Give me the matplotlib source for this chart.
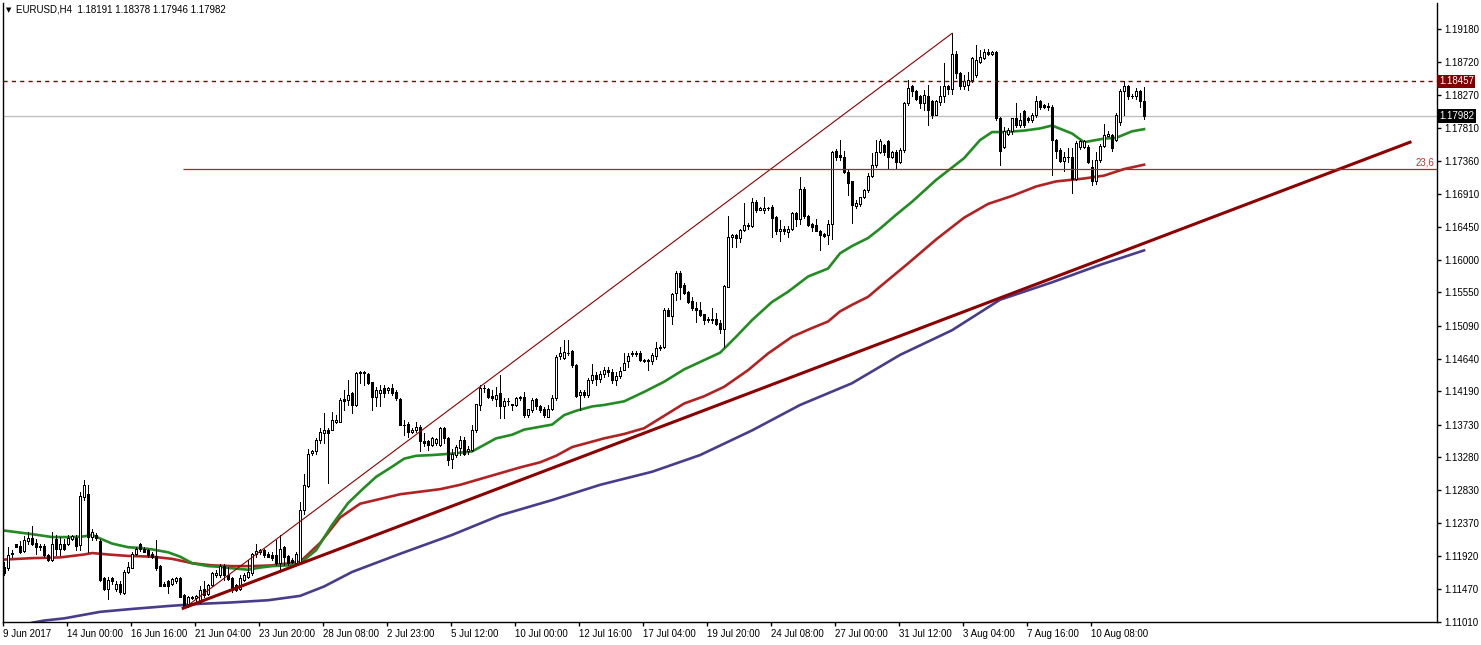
import numpy as np
import matplotlib
matplotlib.use("Agg")
from matplotlib import pyplot as plt
from matplotlib.transforms import blended_transform_factory

# EURUSD H4 candles (one per bar, oldest first)
opens = [
    1.1177, 1.1175, 1.1195, 1.1208, 1.1206, 1.1199, 1.1212, 1.1217, 1.1210, 1.1205,
    1.1206, 1.1193, 1.1187, 1.1216, 1.1202, 1.1209, 1.1209, 1.1216, 1.1217, 1.1207,
    1.1273, 1.1278, 1.1218, 1.1221, 1.1212, 1.1161, 1.1147, 1.1161, 1.1147, 1.1153,
    1.1141, 1.1170, 1.1176, 1.1195, 1.1208, 1.1201, 1.1200, 1.1195, 1.1192, 1.1178,
    1.1153, 1.1157, 1.1154, 1.1157, 1.1161, 1.1138, 1.1126, 1.1134, 1.1134, 1.1129,
    1.1147, 1.1140, 1.1152, 1.1166, 1.1166, 1.1178, 1.1166, 1.1161, 1.1152, 1.1147,
    1.1159, 1.1163, 1.1168, 1.1195, 1.1198, 1.1200, 1.1195, 1.1193, 1.1193, 1.1182,
    1.1204, 1.1192, 1.1186, 1.1182, 1.1184, 1.1255, 1.1288, 1.1334, 1.1336, 1.1352,
    1.1361, 1.1366, 1.1366, 1.1377, 1.1377, 1.1408, 1.1407, 1.1416, 1.1400, 1.1444,
    1.1445, 1.1443, 1.1431, 1.1411, 1.1416, 1.1424, 1.1421, 1.1424, 1.1418, 1.1408,
    1.1373, 1.1374, 1.1363, 1.1366, 1.1370, 1.1350, 1.1350, 1.1345, 1.1347, 1.1345,
    1.1368, 1.1354, 1.1325, 1.1331, 1.1341, 1.1352, 1.1336, 1.1338, 1.1366, 1.1400,
    1.1424, 1.1422, 1.1412, 1.1408, 1.1416, 1.1398, 1.1406, 1.1401, 1.1400, 1.1409,
    1.1411, 1.1386, 1.1393, 1.1408, 1.1398, 1.1395, 1.1384, 1.1395, 1.1409, 1.1467,
    1.1465, 1.1472, 1.1474, 1.1455, 1.1414, 1.1418, 1.1414, 1.1435, 1.1441, 1.1436,
    1.1443, 1.1448, 1.1446, 1.1435, 1.1440, 1.1448, 1.1460, 1.1470, 1.1471, 1.1472,
    1.1462, 1.1462, 1.1460, 1.1468, 1.1478, 1.1480, 1.1531, 1.1523, 1.1554, 1.1582,
    1.1565, 1.1556, 1.1543, 1.1533, 1.1531, 1.1525, 1.1519, 1.1517, 1.1519, 1.1513,
    1.1504, 1.1563, 1.1631, 1.1634, 1.1630, 1.1641, 1.1648, 1.1647, 1.1679, 1.1669,
    1.1668, 1.1671, 1.1673, 1.1659, 1.1639, 1.1643, 1.1638, 1.1642, 1.1665, 1.1656,
    1.1698, 1.1660, 1.1649, 1.1648, 1.1640, 1.1636, 1.1634, 1.1649, 1.1750, 1.1744,
    1.1742, 1.1721, 1.1708, 1.1674, 1.1677, 1.1686, 1.1696, 1.1715, 1.1731, 1.1749,
    1.1758, 1.1763, 1.1741, 1.1748, 1.1735, 1.1751, 1.1816, 1.1839, 1.1832, 1.1825,
    1.1816, 1.1826, 1.1819, 1.1800, 1.1818, 1.1826, 1.1840, 1.1836, 1.1884, 1.1857,
    1.1839, 1.1841, 1.1848, 1.1855, 1.1873, 1.1878, 1.1886, 1.1884, 1.1886, 1.1795,
    1.1756, 1.1774, 1.1777, 1.1796, 1.1786, 1.1805, 1.1795, 1.1793, 1.1800, 1.1819,
    1.1813, 1.1811, 1.1811, 1.1765, 1.1751, 1.1736, 1.1742, 1.1742, 1.1712, 1.1755,
    1.1756, 1.1756, 1.1728, 1.1708, 1.1738, 1.1757, 1.1771, 1.1772, 1.1765, 1.1790,
    1.1832, 1.1840, 1.1826, 1.1825, 1.1832, 1.18191,
]
highs = [
    1.1184, 1.1205, 1.1200, 1.1209, 1.1212, 1.1219, 1.1225, 1.1233, 1.1215, 1.1209,
    1.1209, 1.1195, 1.1225, 1.1221, 1.1218, 1.1216, 1.1221, 1.1221, 1.1221, 1.1280,
    1.1297, 1.1290, 1.1229, 1.1224, 1.1216, 1.1163, 1.1163, 1.1163, 1.1157, 1.1157,
    1.1173, 1.1184, 1.1198, 1.1205, 1.1210, 1.1204, 1.1202, 1.1198, 1.1214, 1.1179,
    1.1156, 1.1159, 1.1161, 1.1163, 1.1163, 1.1140, 1.1137, 1.1137, 1.1138, 1.1150,
    1.1157, 1.1154, 1.1170, 1.1173, 1.1181, 1.1181, 1.1177, 1.1163, 1.1154, 1.1166,
    1.1168, 1.1186, 1.1196, 1.1209, 1.1202, 1.1201, 1.1197, 1.1198, 1.1214, 1.1221,
    1.1206, 1.1193, 1.1189, 1.1198, 1.1267, 1.1305, 1.1340, 1.1338, 1.1354, 1.1368,
    1.1389, 1.1368, 1.1391, 1.1386, 1.1409, 1.1421, 1.1435, 1.1418, 1.1446, 1.1447,
    1.1447, 1.1444, 1.1432, 1.1425, 1.1427, 1.1427, 1.1425, 1.1429, 1.1421, 1.1409,
    1.1379, 1.1377, 1.1368, 1.1377, 1.1373, 1.1361, 1.1352, 1.1356, 1.1354, 1.1370,
    1.1370, 1.1356, 1.1340, 1.1345, 1.1357, 1.1356, 1.1343, 1.1373, 1.1402, 1.1427,
    1.1427, 1.1424, 1.1421, 1.1425, 1.1441, 1.1409, 1.1409, 1.1402, 1.1411, 1.1413,
    1.1418, 1.1395, 1.1409, 1.1409, 1.1400, 1.1397, 1.1400, 1.1414, 1.1469, 1.1480,
    1.1489, 1.1490, 1.1476, 1.1457, 1.1421, 1.1421, 1.1437, 1.1457, 1.1446, 1.1447,
    1.1452, 1.1453, 1.1450, 1.1445, 1.1452, 1.1471, 1.1471, 1.1474, 1.1474, 1.1475,
    1.1464, 1.1464, 1.1471, 1.1487, 1.1482, 1.1533, 1.1533, 1.1554, 1.1584, 1.1584,
    1.1568, 1.1557, 1.1549, 1.1542, 1.1542, 1.1526, 1.1521, 1.1534, 1.1527, 1.1517,
    1.1565, 1.1660, 1.1636, 1.1636, 1.1643, 1.1678, 1.1651, 1.1685, 1.1682, 1.1673,
    1.1686, 1.1673, 1.1675, 1.1660, 1.1655, 1.1646, 1.1646, 1.1666, 1.1666, 1.1714,
    1.1700, 1.1662, 1.1651, 1.1656, 1.1641, 1.1637, 1.1655, 1.1750, 1.1752, 1.1765,
    1.1750, 1.1725, 1.1709, 1.1682, 1.1687, 1.1698, 1.1719, 1.1747, 1.1765, 1.1767,
    1.1760, 1.1765, 1.1750, 1.1751, 1.1754, 1.1817, 1.1848, 1.1841, 1.1834, 1.1827,
    1.1834, 1.1841, 1.1820, 1.1820, 1.1839, 1.1871, 1.1841, 1.1912, 1.1887, 1.1859,
    1.1855, 1.1859, 1.1880, 1.1896, 1.1889, 1.1891, 1.1890, 1.1888, 1.1888, 1.1797,
    1.1783, 1.1781, 1.1796, 1.1816, 1.1802, 1.1806, 1.1797, 1.1802, 1.1826, 1.1820,
    1.1815, 1.1816, 1.1813, 1.1767, 1.1754, 1.1749, 1.1754, 1.1754, 1.1763, 1.1765,
    1.1765, 1.1758, 1.1738, 1.1749, 1.1759, 1.1787, 1.1777, 1.1774, 1.1802, 1.1835,
    1.1846, 1.1841, 1.1828, 1.1837, 1.1834, 1.18378,
]
lows = [
    1.1166, 1.1173, 1.1191, 1.1204, 1.1196, 1.1198, 1.1209, 1.1207, 1.1195, 1.1200,
    1.1191, 1.1185, 1.1185, 1.1193, 1.1193, 1.1200, 1.1207, 1.1214, 1.1200, 1.1200,
    1.1269, 1.1198, 1.1214, 1.1214, 1.1157, 1.1145, 1.1132, 1.1154, 1.1144, 1.1140,
    1.1140, 1.1168, 1.1175, 1.1193, 1.1199, 1.1197, 1.1191, 1.1189, 1.1173, 1.1150,
    1.1150, 1.1141, 1.1152, 1.1155, 1.1135, 1.1120, 1.1122, 1.1133, 1.1129, 1.1127,
    1.1136, 1.1138, 1.1150, 1.1163, 1.1163, 1.1159, 1.1159, 1.1143, 1.1144, 1.1145,
    1.1157, 1.1161, 1.1166, 1.1191, 1.1195, 1.1191, 1.1190, 1.1186, 1.1179, 1.1173,
    1.1179, 1.1179, 1.1182, 1.1181, 1.1181, 1.1250, 1.1287, 1.1331, 1.1333, 1.1347,
    1.1347, 1.1292, 1.1366, 1.1375, 1.1376, 1.1393, 1.1400, 1.1389, 1.1398, 1.1430,
    1.1427, 1.1429, 1.1393, 1.1398, 1.1398, 1.1411, 1.1416, 1.1414, 1.1407, 1.1372,
    1.1359, 1.1356, 1.1361, 1.1363, 1.1336, 1.1343, 1.1338, 1.1343, 1.1345, 1.1343,
    1.1347, 1.1317, 1.1313, 1.1329, 1.1331, 1.1331, 1.1333, 1.1336, 1.1363, 1.1393,
    1.1418, 1.1409, 1.1407, 1.1398, 1.1382, 1.1382, 1.1400, 1.1393, 1.1398, 1.1407,
    1.1384, 1.1384, 1.1391, 1.1395, 1.1391, 1.1384, 1.1383, 1.1393, 1.1407, 1.1464,
    1.1464, 1.1469, 1.1453, 1.1411, 1.1393, 1.1411, 1.1411, 1.1430, 1.1428, 1.1432,
    1.1438, 1.1440, 1.1430, 1.1428, 1.1437, 1.1448, 1.1453, 1.1467, 1.1467, 1.1460,
    1.1459, 1.1448, 1.1457, 1.1464, 1.1476, 1.1478, 1.1522, 1.1512, 1.1545, 1.1546,
    1.1553, 1.1541, 1.1531, 1.1515, 1.1522, 1.1511, 1.1515, 1.1513, 1.1510, 1.1499,
    1.1480, 1.1562, 1.1618, 1.1618, 1.1625, 1.1639, 1.1643, 1.1645, 1.1666, 1.1668,
    1.1664, 1.1669, 1.1631, 1.1636, 1.1626, 1.1636, 1.1632, 1.1641, 1.1647, 1.1650,
    1.1658, 1.1647, 1.1640, 1.1639, 1.1614, 1.1632, 1.1622, 1.1628, 1.1737, 1.1737,
    1.1720, 1.1689, 1.1651, 1.1671, 1.1674, 1.1685, 1.1694, 1.1714, 1.1728, 1.1747,
    1.1745, 1.1727, 1.1740, 1.1725, 1.1734, 1.1749, 1.1813, 1.1825, 1.1820, 1.1809,
    1.1806, 1.1786, 1.1796, 1.1799, 1.1813, 1.1818, 1.1829, 1.1829, 1.1850, 1.1836,
    1.1836, 1.1834, 1.1845, 1.1852, 1.1871, 1.1877, 1.1882, 1.1882, 1.1793, 1.1731,
    1.1754, 1.1772, 1.1774, 1.1783, 1.1783, 1.1783, 1.1790, 1.1790, 1.1797, 1.1808,
    1.1809, 1.1806, 1.1717, 1.1740, 1.1735, 1.1722, 1.1735, 1.1692, 1.1710, 1.1753,
    1.1754, 1.1733, 1.1703, 1.1705, 1.1735, 1.1756, 1.1770, 1.1750, 1.1764, 1.1786,
    1.1800, 1.1822, 1.1823, 1.1822, 1.1811, 1.17946,
]
closes = [
    1.1168, 1.1193, 1.1196, 1.1205, 1.1198, 1.1214, 1.1217, 1.1209, 1.1204, 1.1206,
    1.1193, 1.1187, 1.1209, 1.1202, 1.1209, 1.1202, 1.1217, 1.1219, 1.1206, 1.1274,
    1.1290, 1.1218, 1.1225, 1.1217, 1.1159, 1.1147, 1.1159, 1.1157, 1.1154, 1.1143,
    1.1170, 1.1177, 1.1195, 1.1201, 1.1201, 1.1198, 1.1193, 1.1191, 1.1175, 1.1151,
    1.1151, 1.1150, 1.1160, 1.1161, 1.1136, 1.1123, 1.1135, 1.1136, 1.1137, 1.1145,
    1.1138, 1.1152, 1.1168, 1.1169, 1.1178, 1.1166, 1.1160, 1.1145, 1.1145, 1.1161,
    1.1166, 1.1170, 1.1195, 1.1199, 1.1200, 1.1193, 1.1191, 1.1189, 1.1182, 1.1202,
    1.1191, 1.1182, 1.1184, 1.1195, 1.1255, 1.1290, 1.1332, 1.1336, 1.1352, 1.1363,
    1.1366, 1.1361, 1.1379, 1.1379, 1.1407, 1.1406, 1.1414, 1.1400, 1.1444, 1.1445,
    1.1444, 1.1430, 1.1411, 1.1421, 1.1421, 1.1416, 1.1423, 1.1417, 1.1409, 1.1373,
    1.1372, 1.1363, 1.1366, 1.1369, 1.1350, 1.1348, 1.1345, 1.1354, 1.1353, 1.1368,
    1.1354, 1.1324, 1.1333, 1.1342, 1.1352, 1.1333, 1.1339, 1.1366, 1.1401, 1.1424,
    1.1423, 1.1411, 1.1409, 1.1414, 1.1398, 1.1406, 1.1405, 1.1400, 1.1409, 1.1411,
    1.1386, 1.1394, 1.1407, 1.1398, 1.1393, 1.1386, 1.1395, 1.1409, 1.1466, 1.1471,
    1.1473, 1.1471, 1.1455, 1.1412, 1.1418, 1.1414, 1.1435, 1.1441, 1.1436, 1.1443,
    1.1448, 1.1446, 1.1435, 1.1440, 1.1447, 1.1458, 1.1467, 1.1471, 1.1470, 1.1462,
    1.1461, 1.1460, 1.1469, 1.1479, 1.1480, 1.1531, 1.1523, 1.1553, 1.1582, 1.1563,
    1.1554, 1.1542, 1.1533, 1.1531, 1.1524, 1.1517, 1.1517, 1.1519, 1.1512, 1.1504,
    1.1564, 1.1631, 1.1634, 1.1630, 1.1641, 1.1648, 1.1646, 1.1679, 1.1669, 1.1671,
    1.1671, 1.1671, 1.1658, 1.1639, 1.1643, 1.1639, 1.1643, 1.1665, 1.1656, 1.1698,
    1.1660, 1.1648, 1.1645, 1.1640, 1.1634, 1.1633, 1.1649, 1.1749, 1.1741, 1.1742,
    1.1721, 1.1706, 1.1675, 1.1678, 1.1686, 1.1696, 1.1715, 1.1731, 1.1749, 1.1763,
    1.1749, 1.1742, 1.1748, 1.1735, 1.1751, 1.1816, 1.1837, 1.1833, 1.1822, 1.1816,
    1.1827, 1.1806, 1.1800, 1.1819, 1.1826, 1.1839, 1.1836, 1.1884, 1.1857, 1.1839,
    1.1846, 1.1848, 1.1878, 1.1875, 1.1880, 1.1886, 1.1884, 1.1886, 1.1795, 1.1750,
    1.1777, 1.1779, 1.1795, 1.1786, 1.1793, 1.1786, 1.1793, 1.1800, 1.1819, 1.1810,
    1.1811, 1.1812, 1.1765, 1.1750, 1.1736, 1.1742, 1.1742, 1.1712, 1.1761, 1.1763,
    1.1763, 1.1735, 1.1708, 1.1738, 1.1757, 1.1772, 1.1773, 1.1754, 1.1800, 1.1832,
    1.1839, 1.1826, 1.1825, 1.1832, 1.1819, 1.17982,
]

# moving averages, sampled at bar numbers
ma_fast_bars = [0, 7, 12, 17, 20, 22, 24, 27, 31, 34, 37, 41, 44, 47, 51, 54, 57, 61, 64, 67,
                71, 74, 78, 82, 86, 90, 93, 97, 100, 103, 107, 112, 117, 120, 123, 127, 130,
                133, 137, 140, 143, 147, 150, 155, 160, 165, 170, 179, 183, 187, 192, 196,
                201, 206, 209, 212, 216, 219, 223, 227, 233, 240, 244, 247, 250, 255, 259,
                262, 267, 270, 275, 278, 282, 285]
ma_fast = [1.1227, 1.1222, 1.1218, 1.1218, 1.1219, 1.1221, 1.1216, 1.1209, 1.1204, 1.1203,
           1.1201, 1.1197, 1.1191, 1.1182, 1.1178, 1.1177, 1.1175, 1.1173, 1.1176, 1.1178,
           1.1179, 1.1182, 1.1200, 1.1235, 1.1265, 1.1286, 1.1301, 1.1315, 1.1326, 1.1330,
           1.1331, 1.1333, 1.1336, 1.1345, 1.1354, 1.1359, 1.1366, 1.1369, 1.1373, 1.1386,
           1.1392, 1.1398, 1.1400, 1.1405, 1.1418, 1.1432, 1.1449, 1.1472, 1.1494, 1.1517,
           1.1542, 1.1556, 1.1577, 1.1588, 1.1609, 1.1619, 1.1630, 1.1643, 1.1662, 1.1680,
           1.1710, 1.1740, 1.1765, 1.1776, 1.1776, 1.1778, 1.1781, 1.1785, 1.1774, 1.1762,
           1.1767, 1.1768, 1.1777, 1.1780]

ma_mid_bars = [0, 7, 14, 20, 22, 26, 31, 37, 42, 47, 52, 57, 62, 67, 74, 79, 84, 89, 99, 109,
               114, 119, 124, 129, 134, 138, 142, 146, 150, 155, 160, 165, 170, 175, 180,
               186, 191, 197, 202, 206, 209, 212, 216, 219, 226, 233, 240, 246, 252, 258,
               263, 270, 275, 280, 285]
ma_mid = [1.1187, 1.1189, 1.1190, 1.1194, 1.1196, 1.1194, 1.1192, 1.1191, 1.1188, 1.1182,
          1.1179, 1.1178, 1.1178, 1.1179, 1.1184, 1.1210, 1.1245, 1.1264, 1.1277, 1.1284,
          1.1290, 1.1298, 1.1306, 1.1314, 1.1321, 1.1330, 1.1342, 1.1348, 1.1354, 1.1360,
          1.1368, 1.1385, 1.1402, 1.1412, 1.1425, 1.1448, 1.1471, 1.1494, 1.1506, 1.1515,
          1.1529, 1.1538, 1.1549, 1.1563, 1.1595, 1.1628, 1.1658, 1.1677, 1.1688, 1.1701,
          1.1708, 1.1712, 1.1716, 1.1725, 1.1731]

ma_slow_bars = [7, 10, 15, 20, 24, 32, 41, 49, 57, 66, 74, 80, 87, 99, 112, 124, 137, 149,
                162, 174, 187, 199, 212, 224, 237, 249, 262, 274, 285]
ma_slow = [1.1100, 1.1103, 1.1106, 1.1111, 1.1115, 1.1119, 1.1123, 1.1126, 1.1128, 1.1131,
           1.1137, 1.1150, 1.1170, 1.1195, 1.1221, 1.1248, 1.1269, 1.1290, 1.1308, 1.1331,
           1.1365, 1.1400, 1.1430, 1.1469, 1.1503, 1.1545, 1.1569, 1.1593, 1.1613]

# trendline and fibo anchors (bar number, price)
trend_bars = [44.75, 351.5]
trend_prices = [1.1120, 1.1762]
fib_bars = [45, 237]
fib_level = 0.236

bid_price = 1.17982
alert_price = 1.18457

price_ticks = [1.19180, 1.18720, 1.18270, 1.17810, 1.17360, 1.16910, 1.16450, 1.16000,
               1.15550, 1.15090, 1.14640, 1.14190, 1.13730, 1.13280, 1.12830, 1.12370,
               1.11920, 1.11470, 1.11010]
date_labels = ["9 Jun 2017", "14 Jun 00:00", "16 Jun 16:00", "21 Jun 04:00", "23 Jun 20:00",
               "28 Jun 08:00", "2 Jul 23:00", "5 Jul 12:00", "10 Jul 00:00", "12 Jul 16:00",
               "17 Jul 04:00", "19 Jul 20:00", "24 Jul 08:00", "27 Jul 00:00", "31 Jul 12:00",
               "3 Aug 04:00", "7 Aug 16:00", "10 Aug 08:00"]
bars_per_label = 16

plt.rcParams['font.family'] = ['Liberation Sans', 'DejaVu Sans']
plt.rcParams['font.size'] = 7

fig = plt.figure(figsize=(14.81, 6.45), dpi=100)
ax = fig.add_axes([3 / 1481, 23 / 645, 1434 / 1481, 619 / 645])

o = np.array(opens)
h = np.array(highs)
l = np.array(lows)
c = np.array(closes)
x = np.arange(len(o))
up = c >= o

# moving averages under the candles
ax.plot(ma_slow_bars, ma_slow, color="#483d8b", lw=1.9, solid_joinstyle="round", zorder=2)
ax.plot(ma_mid_bars, ma_mid, color="#b22222", lw=1.9, solid_joinstyle="round", zorder=2)
ax.plot(ma_fast_bars, ma_fast, color="#228b22", lw=1.9, solid_joinstyle="round", zorder=2)

# candles: 1 px wicks, 3 px bodies with a black outline
ax.vlines(x, l, h, color="black", lw=0.72, zorder=3, antialiased=False)
ax.bar(x[up], c[up] - o[up], bottom=o[up], width=0.62, facecolor="white",
       edgecolor="black", lw=0.72, zorder=4, antialiased=False)
ax.bar(x[~up], o[~up] - c[~up], bottom=c[~up], width=0.62, facecolor="black",
       edgecolor="black", lw=0.72, zorder=4, antialiased=False)

# trendline
ax.plot(trend_bars, trend_prices, color="#8b0000", lw=2.2, zorder=5)

# fibo from the low to the high
f_low = lows[fib_bars[0]]
f_high = highs[fib_bars[1]]
ax.plot(fib_bars, [f_low, f_high], color="#8b0000", lw=0.8, zorder=5)
f_236 = f_high - fib_level * (f_high - f_low)
ax.hlines(f_236, fib_bars[0] - 0.25, 358.25, color="#a52a2a", lw=0.9, zorder=5)
ax.text(357.5, f_236 + 0.0002, "23,6", color="#c03030", fontsize=7, ha="right",
        va="bottom", zorder=6)

# bid and alert lines
ax.axhline(bid_price, color="#c0c0c0", lw=1, zorder=1)
ax.axhline(alert_price, color="#800000", lw=1, dashes=(3, 3), zorder=5)

ax.set_xlim(-0.3, 358.25)
ax.set_ylim(1.11010, 1.19538)

ax.yaxis.tick_right()
ax.set_yticks(price_ticks)
ax.set_yticklabels(["%.5f" % p for p in price_ticks])
ax.tick_params(axis="y", direction="out", length=3, width=1, pad=2, labelsize=7)

xt = np.arange(len(date_labels)) * bars_per_label - 0.3
ax.set_xticks(xt)
ax.set_xticklabels(date_labels, ha="left")
ax.tick_params(axis="x", direction="out", length=3, width=1, pad=2, labelsize=7)

for s in ["left", "bottom", "right"]:
    ax.spines[s].set_color("black")
    ax.spines[s].set_linewidth(1)
ax.spines["top"].set_visible(False)

# price labels on the axis
tr = blended_transform_factory(ax.transAxes, ax.transData)
ax.text(1.0013, alert_price, "%.5f" % alert_price, transform=tr, color="white",
        fontsize=7, va="center", ha="left", clip_on=False, zorder=7,
        bbox=dict(facecolor="#800000", edgecolor="none", pad=1.2))
ax.text(1.0013, bid_price, "%.5f" % bid_price, transform=tr, color="white",
        fontsize=7, va="center", ha="left", clip_on=False, zorder=7,
        bbox=dict(facecolor="black", edgecolor="none", pad=1.2))

# header
fig.text(6 / 1481, 1 - 10 / 645, "\u25bc", fontsize=5, va="center", ha="left",
         family="DejaVu Sans")
fig.text(16 / 1481, 1 - 10 / 645, "EURUSD,H4  %.5f %.5f %.5f %.5f"
         % (opens[-1], highs[-1], lows[-1], closes[-1]), fontsize=7, va="center", ha="left")

fig.savefig("out.png", dpi=100)
